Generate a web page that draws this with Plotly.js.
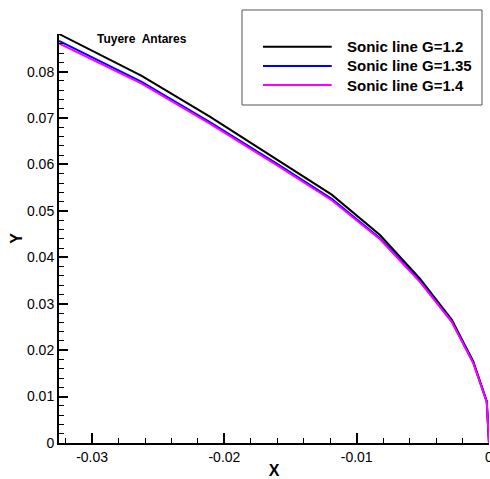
<!DOCTYPE html>
<html>
<head>
<meta charset="utf-8">
<script src="https://cdn.plot.ly/plotly-3.0.1.min.js"></script>
<style>html,body{margin:0;padding:0;background:#fff;}#chart{width:490px;height:479px;}</style>
</head>
<body>
<div id="chart"></div>
<script>
// Data
var seriesNames = ["Sonic line G=1.2", "Sonic line G=1.35", "Sonic line G=1.4"];
var seriesColors = ["#000000", "#0000ff", "#ff00ff"];
var xValues = [-0.0325, -0.02625, -0.0211, -0.01595, -0.01189, -0.00824, -0.00522, -0.00282, -0.00119, -0.00017, 0];
var yG12  = [0.0881, 0.0791, 0.0703, 0.0610, 0.0535, 0.0448, 0.0354, 0.0266, 0.0176, 0.0090, 0];
var yG135 = [0.0866, 0.0778, 0.0691, 0.0600, 0.0526, 0.0441, 0.0349, 0.0262, 0.0173, 0.0089, 0];
var yG14  = [0.0861, 0.0774, 0.0688, 0.0597, 0.0523, 0.0439, 0.0347, 0.0261, 0.0172, 0.0088, 0];
var xTickVals = [-0.03, -0.02, -0.01, 0];
var xTickText = ["-0.03", "-0.02", "-0.01", "0"];
var yTickVals = [0, 0.01, 0.02, 0.03, 0.04, 0.05, 0.06, 0.07, 0.08];
var yTickText = ["0", "0.01", "0.02", "0.03", "0.04", "0.05", "0.06", "0.07", "0.08"];
var chartTitle = "Tuyere\u00a0 Antares";

var ys = [yG12, yG135, yG14];
var font = "Liberation Sans, Arial, Helvetica, sans-serif";

var traces = ys.map(function (y, i) {
  return {
    x: xValues, y: y, type: "scatter", mode: "lines", name: seriesNames[i],
    line: {color: seriesColors[i], width: 2}, showlegend: false, cliponaxis: true
  };
});

// manual legend (paper coordinates)
var legY = [0.9689, 0.9218, 0.8753];
var shapes = [{
  type: "rect", xref: "paper", yref: "paper", x0: 0.4256, x1: 0.9837, y0: 0.8264, y1: 1.0587,
  line: {color: "#555555", width: 1}, fillcolor: "#ffffff", layer: "above"
}];
var annotations = [{
  xref: "paper", yref: "paper", x: 0.1919, y: 0.9885, xanchor: "center", yanchor: "middle",
  text: chartTitle, showarrow: false, font: {family: font, size: 12, color: "#000", weight: "bold"}
}];
seriesNames.forEach(function (n, i) {
  shapes.push({type: "line", xref: "paper", yref: "paper", x0: 0.4744, x1: 0.6342, y0: legY[i], y1: legY[i],
    line: {color: seriesColors[i], width: 2}, layer: "above"});
  annotations.push({xref: "paper", yref: "paper", x: 0.6651, y: legY[i], xanchor: "left", yanchor: "middle",
    text: n, showarrow: false, font: {family: font, size: 15, color: "#000", weight: "bold"}});
});

var layout = {
  width: 490, height: 479,
  margin: {l: 59, r: 1, t: 34, b: 36},
  paper_bgcolor: "#fff", plot_bgcolor: "#fff",
  showlegend: false,
  font: {family: font, size: 14, color: "#000"},
  xaxis: {
    range: [-0.0325, 0], showgrid: false, zeroline: false,
    showline: true, linecolor: "#000", linewidth: 2,
    ticks: "inside", ticklen: 10, tickwidth: 2, tickcolor: "#000",
    tickmode: "array", tickvals: xTickVals, ticktext: xTickText,
    ticklabeloverflow: "allow",
    tickfont: {family: font, size: 14, color: "#000"},
    minor: {dtick: 0.002, tick0: 0, ticks: "inside", ticklen: 5, tickwidth: 1, tickcolor: "#000", showgrid: false},
    title: {text: "X", font: {family: font, size: 16, color: "#000", weight: "bold"}, standoff: 4},
    automargin: false
  },
  yaxis: {
    range: [0, 0.0881], showgrid: false, zeroline: false,
    showline: true, linecolor: "#000", linewidth: 2,
    ticks: "inside", ticklen: 9, tickwidth: 2, tickcolor: "#000",
    tickmode: "array", tickvals: yTickVals, ticktext: yTickText,
    tickfont: {family: font, size: 14, color: "#000"},
    minor: {dtick: 0.002, tick0: 0, ticks: "inside", ticklen: 5, tickwidth: 1, tickcolor: "#000", showgrid: false},
    title: {text: "Y", font: {family: font, size: 16, color: "#000", weight: "bold"}, standoff: 0},
    automargin: false
  },
  shapes: shapes,
  annotations: annotations
};

Plotly.newPlot("chart", traces, layout, {staticPlot: true, displayModeBar: false});
</script>
</body>
</html>
